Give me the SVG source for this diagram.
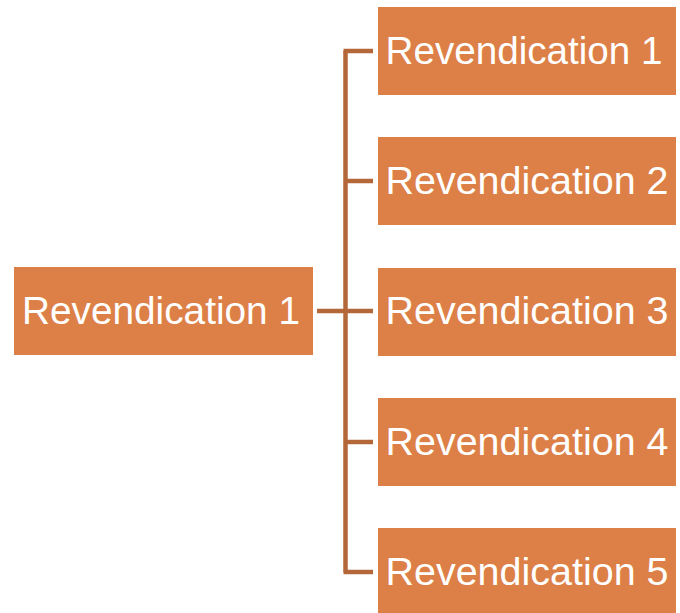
<svg xmlns="http://www.w3.org/2000/svg" width="680" height="613" viewBox="0 0 680 613">
<style>
.box{fill:#DD8047}
.lbl{fill:#FFFFFF;font-family:"Liberation Sans",Arial,sans-serif;font-size:38px;text-anchor:middle}
.conn{fill:none;stroke:#B4683A;stroke-width:4.5}
</style>
<rect width="680" height="613" fill="#FFFFFF"/>
<g id="connectors">
<path class="conn" d="M317 311 H373"/>
<path class="conn" d="M345.5 51 V572"/>
<path class="conn" d="M343.5 51 H373"/>
<path class="conn" d="M345.5 181 H373"/>
<path class="conn" d="M345.5 442 H373"/>
<path class="conn" d="M343.5 572 H373"/>
</g>
<g id="root">
<rect class="box" x="14" y="267" width="299" height="88"/>
<text class="lbl" x="161" y="324" textLength="278" lengthAdjust="spacingAndGlyphs">Revendication 1</text>
</g>
<g id="claim1">
<rect class="box" x="378" y="7" width="298" height="88"/>
<text class="lbl" x="524" y="64" textLength="277" lengthAdjust="spacingAndGlyphs">Revendication 1</text>
</g>
<g id="claim2">
<rect class="box" x="378" y="137" width="298" height="88"/>
<text class="lbl" x="527" y="194" textLength="283" lengthAdjust="spacingAndGlyphs">Revendication 2</text>
</g>
<g id="claim3">
<rect class="box" x="378" y="268" width="298" height="88"/>
<text class="lbl" x="527" y="324" textLength="283" lengthAdjust="spacingAndGlyphs">Revendication 3</text>
</g>
<g id="claim4">
<rect class="box" x="378" y="398" width="298" height="88"/>
<text class="lbl" x="527" y="455" textLength="283" lengthAdjust="spacingAndGlyphs">Revendication 4</text>
</g>
<g id="claim5">
<rect class="box" x="378" y="528" width="298" height="88"/>
<text class="lbl" x="527" y="585" textLength="283" lengthAdjust="spacingAndGlyphs">Revendication 5</text>
</g>
</svg>
